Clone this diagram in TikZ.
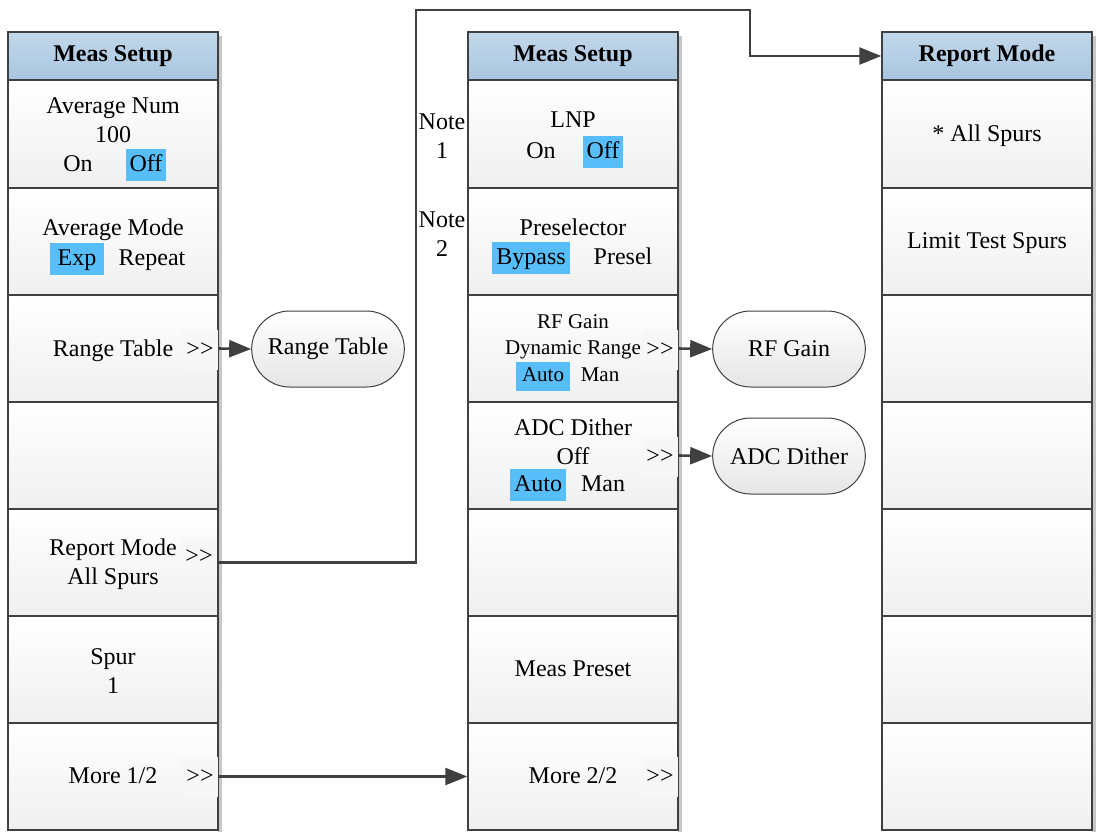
\documentclass[tikz,border=0pt]{standalone}
\usepackage{fontspec}
\setmainfont{Liberation Serif}
\usetikzlibrary{arrows.meta,shapes.misc}

\definecolor{headtop}{RGB}{194,215,234}
\definecolor{headbot}{RGB}{168,198,224}
\definecolor{optblue}{RGB}{88,190,250}
\definecolor{edgegray}{RGB}{64,64,64}

\tikzset{
  menucell/.style={draw=edgegray, line width=0.7pt, top color=white, bottom color=black!6,
    minimum width=105pt, minimum height=53.5pt, inner sep=0pt},
  menuhead/.style={menucell, top color=headtop, bottom color=headbot, minimum height=24pt,
    font=\fontsize{12}{14.5}\selectfont\bfseries},
  opt/.style={text height=9pt, text depth=3pt, inner ysep=2pt, inner xsep=2pt},
  optsel/.style={opt, fill=optblue},
  more/.style={opt, fill=black!3, inner ysep=4pt},
  subkey/.style={rounded rectangle, draw=black!75, line width=0.5pt, top color=white, bottom color=black!10,
    minimum width=83pt, minimum height=38pt},
  conn/.style={draw=edgegray, line width=1.3pt, -{Triangle[length=11pt,width=8.5pt]}},
}

\begin{document}
\begin{tikzpicture}[x=0.5pt,y=-0.5pt,font=\fontsize{12}{14.5}\selectfont]
  \useasboundingbox (0,0) rectangle (1097,832);
  % shadows behind the menus
  \foreach \x in {218,678,1092}
    \fill[black!22] (\x,36) rectangle ++(4,796);
  % the three menus
  \foreach \c/\x in {a/113,b/573,c/987} {
    \foreach \i/\y in {1/134,2/241.5,3/348.5,4/455.5,5/562.5,6/669.5,7/776.5}
      \node[menucell] (\c\i) at (\x,\y) {};
  }
  \node[menuhead] (ha) at (113,56) {Meas Setup};
  \node[menuhead] (hb) at (573,56) {Meas Setup};
  \node[menuhead] (hc) at (987,56) {Report Mode};

  % first page of Meas Setup
  \node[align=center] (avgnum) at (113,120) {Average Num\\100};
  \node[opt] (avgon) at (78,165) {On};
  \node[optsel] (avgoff) at (146,165) {Off};
  \node[opt] (avgmode) at (113,229) {Average Mode};
  \node[optsel,inner xsep=4pt] (modeexp) at (77,259) {Exp};
  \node[opt] (moderep) at (152,259) {Repeat};
  \node[opt] (rangetxt) at (113,350) {Range Table};
  \node[more] (a3more) at (200,350) {>{}>};
  \node[align=center] (report) at (113,564) {Report Mode\\All Spurs};
  \node[more] (a5more) at (199,557) {>{}>};
  \node[align=center] (spur) at (113,671) {Spur\\1};
  \node[opt] (more1) at (113,777) {More 1/2};
  \node[more] (a7more) at (200,777) {>{}>};

  % second page of Meas Setup
  \node[align=center] (note1) at (442,136) {Note\\1};
  \node[align=center] (note2) at (442,234) {Note\\2};
  \node[opt] (lnp) at (573,121) {LNP};
  \node[opt] (lnpon) at (541,152) {On};
  \node[optsel] (lnpoff) at (603,152) {Off};
  \node[opt] (presel) at (573,229) {Preselector};
  \node[optsel] (bypass) at (531,258) {Bypass};
  \node[opt] (preselect) at (623,258) {Presel};
  \begin{scope}[font=\fontsize{10.5}{13}\selectfont]
    \node[align=center] (rfgain) at (573,337) {RF Gain\\Dynamic Range};
    \node[optsel,text height=8pt,text depth=2.5pt,inner xsep=3pt] (rfauto) at (543,376) {Auto};
    \node[opt,text height=8pt,text depth=2.5pt] (rfman) at (600,376) {Man};
  \end{scope}
  \node[more] (b3more) at (660,350) {>{}>};
  \node[align=center] (adc) at (573,441.5) {ADC Dither\\Off};
  \node[optsel] (adcauto) at (538,485) {Auto};
  \node[opt] (adcman) at (603,485) {Man};
  \node[more] (b4more) at (660,457) {>{}>};
  \node[opt] (preset) at (573,670) {Meas Preset};
  \node[opt] (more2) at (573,777) {More 2/2};
  \node[more] (b7more) at (660,777) {>{}>};

  % Report Mode menu
  \node[opt] (allspurs) at (987,135) {* All Spurs};
  \node[opt] (limit) at (987,242) {Limit Test Spurs};

  % sub menus
  \node[subkey] (rangetab) at (328,349) {Range Table};
  \node[subkey] (rfkey) at (789,349) {RF Gain};
  \node[subkey] (adckey) at (789,456) {ADC Dither};

  % connectors
  \draw[conn] (a3.east) -- (rangetab.west);
  \draw[conn] (b3.east) -- (rfkey.west);
  \draw[conn] (b4.east) -- (adckey.west);
  \draw[conn] (a7.east) -- (b7.west);
  \coordinate (up) at (416,10);
  \coordinate (over) at (750,10);
  \draw[conn] (a5.east) -| (up) -- (over) |- (hc.west);
\end{tikzpicture}
\end{document}
